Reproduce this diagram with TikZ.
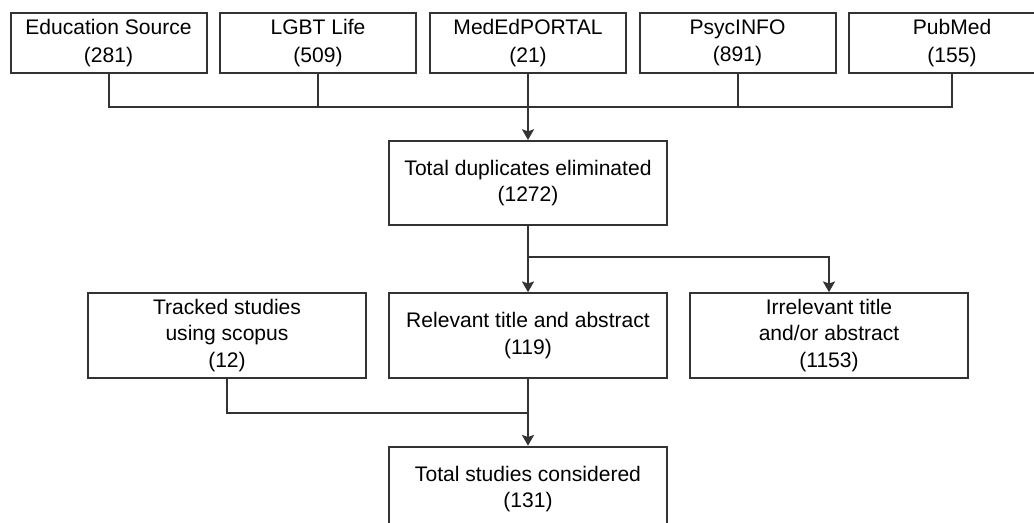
\documentclass[tikz,border=0pt]{standalone}
\usepackage{fontspec}
\setmainfont{Liberation Sans}
\usetikzlibrary{arrows.meta}

\tikzset{
  linecol/.style={draw={rgb, 255:red, 51; green, 51; blue, 51 }, line width=1.5pt},
  srcbox/.style={linecol, fill=white, minimum width=147pt, minimum height=45pt, inner sep=0pt, align=center, font=\fontsize{15.8}{20.5}\selectfont},
  stagebox/.style={linecol, fill=white, minimum width=208.5pt, minimum height=63.5pt, inner sep=0pt, align=center, font=\fontsize{15.8}{19.8}\selectfont},
  flow/.style={linecol, -{Stealth[length=8pt,width=9pt,inset=1.5pt]}},
  link/.style={linecol}
}

\begin{document}
\begin{tikzpicture}[x=0.75pt,y=0.75pt,yscale=-1,xscale=1]
%set diagram size
\useasboundingbox (0,0) rectangle (1034,523);

%Shape: Rectangle [sources]
\node [srcbox] (edu) at (108.5,43) {Education Source\\(281)};
\node [srcbox] (lgbt) at (318,43) {LGBT Life\\(509)};
\node [srcbox] (medportal) at (528,43) {MedEdPORTAL\\(21)};
\node [srcbox] (psyc) at (737.5,43) {PsycINFO\\(891)};
\node [srcbox, minimum width=154.5pt] (pubmed) at (952,43) {PubMed\\(155)};

%Shape: Rectangle [duplicates]
\node [stagebox, minimum height=63pt] (dup) at (528,183) {Total duplicates eliminated\\(1272)};

%Shape: Rectangle [screening]
\node [stagebox] (tracked) at (227,335.5) {Tracked studies\\using scopus\\(12)};
\node [stagebox] (relevant) at (528,335.5) {Relevant title and abstract\\(119)};
\node [stagebox] (irrelevant) at (829,335.5) {Irrelevant title\\and/or abstract\\(1153)};

%Shape: Rectangle [result]
\node [stagebox] (total) at (528,489) {Total studies considered\\(131)};

% junctions
\coordinate (merge) at (528,107);
\coordinate (split) at (528,257);
\coordinate (join) at (528,413);

%Connectors
\draw [link] (edu.south) |- (merge);
\draw [link] (lgbt.south) |- (merge);
\draw [link] (psyc.south) |- (merge);
\draw [link] (pubmed.south) |- (merge);
\draw [flow] (medportal.south) -- (dup.north);

\draw [flow] (dup.south) -- (relevant.north);
\draw [flow] (split) -| (irrelevant.north);

\draw [link] (tracked.south) |- (join);
\draw [flow] (relevant.south) -- (total.north);

\end{tikzpicture}
\end{document}
